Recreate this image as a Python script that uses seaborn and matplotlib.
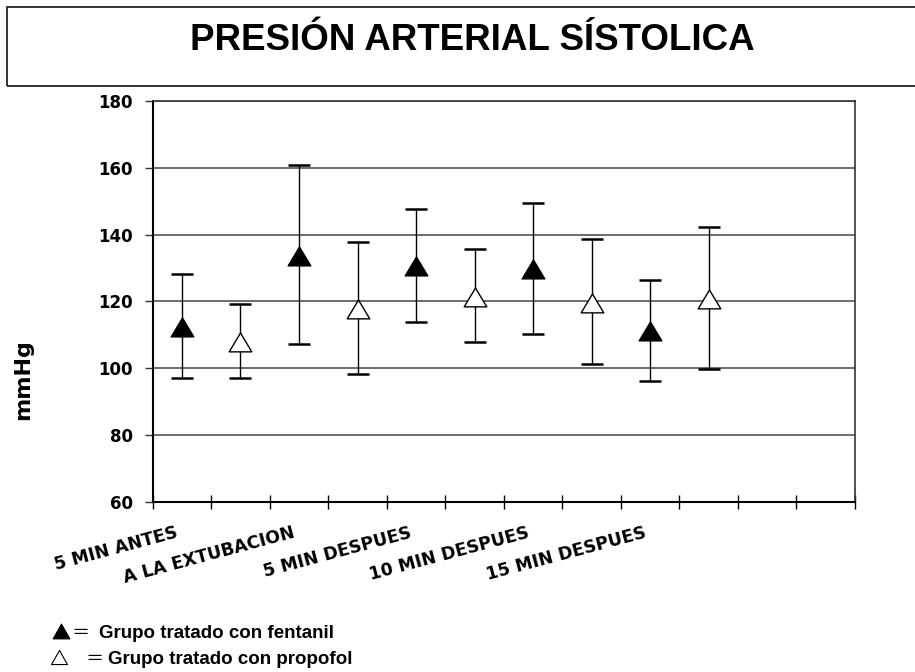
import numpy as np
import pandas as pd
import matplotlib
matplotlib.use("Agg")
import matplotlib.pyplot as plt
from matplotlib.path import Path
from matplotlib.patches import Rectangle
from matplotlib.lines import Line2D
from matplotlib.transforms import ScaledTranslation
import seaborn as sns

# Time points and systolic pressure (mean ± SD, mmHg) per group
time_points = ["5 MIN ANTES", "A LA EXTUBACION", "5 MIN DESPUES",
               "10 MIN DESPUES", "15 MIN DESPUES"]
fentanil_mean = [112.5, 134.0, 130.8, 129.9, 111.3]
fentanil_sd = [15.6, 26.7, 16.9, 19.6, 15.1]
propofol_mean = [108.1, 118.0, 121.7, 119.9, 120.9]
propofol_sd = [11.2, 19.9, 13.9, 18.7, 21.3]
y_ticks = [60, 80, 100, 120, 140, 160, 180]
n_slots = 12  # category slots on the x axis (two per time point, two spare)

title = "PRESIÓN ARTERIAL SÍSTOLICA"
y_label = "mmHg"
legend_labels = ["Grupo tratado con fentanil", "Grupo tratado con propofol"]

# Long table: fentanil in even slots, propofol in the following odd slot
idx = np.arange(len(time_points))
df = pd.concat([
    pd.DataFrame({"slot": 2 * idx, "mean": fentanil_mean, "sd": fentanil_sd,
                  "grupo": "fentanil"}),
    pd.DataFrame({"slot": 2 * idx + 1, "mean": propofol_mean, "sd": propofol_sd,
                  "grupo": "propofol"}),
], ignore_index=True)

sns.set_style("white")
plt.rcParams["font.family"] = ["DejaVu Sans"]
plt.rcParams.update({"text.color": "black", "axes.labelcolor": "black",
                     "xtick.color": "black", "ytick.color": "black"})

W, H = 915, 672
fig = plt.figure(figsize=(W / 100, H / 100), dpi=100)


def fx(x):
    return x / W


def fy(y):
    return 1 - y / H


ax_l, ax_r, ax_t, ax_b = 152.7, 855.0, 101.0, 501.7
ax = fig.add_axes([fx(ax_l), fy(ax_b), fx(ax_r - ax_l), (ax_b - ax_t) / H])

# Wide triangle marker, slightly lowered so the point sits near its centroid
tri = Path([(0, 0.9), (-1.2, -1.1), (1.2, -1.1), (0, 0.9)],
           [Path.MOVETO, Path.LINETO, Path.LINETO, Path.CLOSEPOLY])

ax.errorbar(df["slot"], df["mean"], yerr=df["sd"], fmt="none",
            ecolor="black", elinewidth=1.0, capsize=7.9, capthick=1.8,
            zorder=2)
sns.scatterplot(data=df[df["grupo"] == "fentanil"], x="slot", y="mean",
                marker=tri, s=265, color="black", edgecolor="black",
                linewidth=1.0, zorder=3, ax=ax, legend=False)
sns.scatterplot(data=df[df["grupo"] == "propofol"], x="slot", y="mean",
                marker=tri, s=265, color="white", edgecolor="black",
                linewidth=1.0, zorder=3, ax=ax, legend=False)

ax.set_xlim(-0.5, n_slots - 0.5)
ax.set_ylim(y_ticks[0], y_ticks[-1])
ax.set_xlabel("")
ax.set_ylabel("")

# Horizontal gridlines
ax.set_yticks(y_ticks)
ax.set_yticklabels([str(v) for v in y_ticks], fontsize=12, fontweight="bold")
ax.yaxis.grid(True, color="#444444", linewidth=1.1)
ax.set_axisbelow(True)
ax.tick_params(axis="y", left=True, direction="out", length=5.8, width=1.0,
               color="#333333", pad=8.5)

# Category boundaries as crossing ticks
ax.set_xticks(np.arange(n_slots + 1) - 0.5)
ax.set_xticklabels([])
ax.tick_params(axis="x", bottom=True, direction="inout", length=9.4,
               width=1.0, color="black")

for side in ("left", "bottom"):
    ax.spines[side].set_color("black")
    ax.spines[side].set_linewidth(1.5)
for side in ("top", "right"):
    ax.spines[side].set_color("#333333")
    ax.spines[side].set_linewidth(1.2)

# Slanted time-point labels under the fentanil slots
lab_tr = ax.get_xaxis_transform() + ScaledTranslation(-0.07, -0.22,
                                                      fig.dpi_scale_trans)
for i, name in enumerate(time_points):
    ax.text(2 * i, 0, name, transform=lab_tr, rotation=15,
            rotation_mode="anchor", ha="right", va="top",
            fontsize=12.5, fontweight="bold")

# Y axis title
fig.text(fx(23.5), fy(380), y_label, rotation=90, ha="center", va="center",
         fontsize=16, fontweight="bold")

# Title box
fig.add_artist(Rectangle((fx(7.3), fy(86)), fx(915), (86 - 7.3) / H,
                         transform=fig.transFigure, fill=False,
                         edgecolor="#222222", linewidth=1.3))
fig.text(fx(472), fy(50.3), title, ha="center", va="baseline",
         fontsize=26.5, fontweight="bold", family="Liberation Sans")

# Key below the chart
leg_tri = Path([(0, 1), (-1.13, -1), (1.13, -1), (0, 1)],
               [Path.MOVETO, Path.LINETO, Path.LINETO, Path.CLOSEPOLY])
fig.add_artist(Line2D([fx(61.4)], [fy(630.5)], transform=fig.transFigure,
                      marker=leg_tri, markersize=12, color="black",
                      markerfacecolor="black", markeredgewidth=0.8,
                      linestyle="none"))
fig.add_artist(Line2D([fx(58.7)], [fy(657)], transform=fig.transFigure,
                      marker=leg_tri, markersize=11.5, color="black",
                      markerfacecolor="white", markeredgewidth=0.8,
                      linestyle="none"))
fig.text(fx(72), fy(637.5), "＝", ha="left", va="baseline", fontsize=13,
         family=["Noto Sans CJK JP", "DejaVu Sans"])
fig.text(fx(85), fy(664), "＝", ha="left", va="baseline", fontsize=13,
         family=["Noto Sans CJK JP", "DejaVu Sans"])
fig.text(fx(99.3), fy(637.7), legend_labels[0], ha="left", va="baseline",
         fontsize=13.5, fontweight="bold", family="Liberation Sans")
fig.text(fx(108.3), fy(664), legend_labels[1], ha="left", va="baseline",
         fontsize=13.5, fontweight="bold", family="Liberation Sans")

fig.savefig("out.png", dpi=100, facecolor="white")
